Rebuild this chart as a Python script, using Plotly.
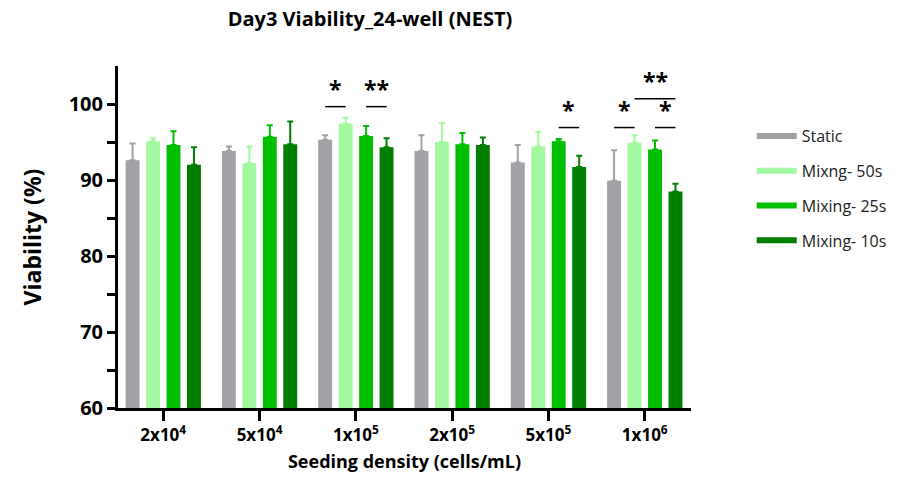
import plotly.graph_objects as go

categories = ["2x10<sup>4</sup>", "5x10<sup>4</sup>", "1x10<sup>5</sup>",
              "2x10<sup>5</sup>", "5x10<sup>5</sup>", "1x10<sup>6</sup>"]
series_names = ["Static", "Mixng- 50s", "Mixing- 25s", "Mixing- 10s"]
static_mean = [92.6, 93.8, 95.3, 93.8, 92.3, 89.9]
static_sd = [2.2, 0.6, 0.6, 2.1, 2.3, 4.0]
mix50_mean = [95.1, 92.2, 97.4, 95.0, 94.4, 94.9]
mix50_sd = [0.4, 2.2, 0.8, 2.5, 1.9, 1.0]
mix25_mean = [94.6, 95.7, 95.8, 94.7, 95.1, 94.0]
mix25_sd = [1.8, 1.5, 1.3, 1.5, 0.3, 1.2]
mix10_mean = [92.0, 94.7, 94.3, 94.6, 91.7, 88.5]
mix10_sd = [2.3, 3.0, 1.2, 1.0, 1.5, 1.0]
colors = ["#a1a1a6", "#a3f9a0", "#00bf00", "#007f00"]

# significance: (category index, series i, series j, bracket y, label)
significance = [
    (2, 0, 1, 99.65, "*"),
    (2, 2, 3, 99.65, "**"),
    (4, 2, 3, 96.9, "*"),
    (5, 0, 1, 96.9, "*"),
    (5, 2, 3, 96.9, "*"),
    (5, 1, 3, 100.7, "**"),
]

means = [static_mean, mix50_mean, mix25_mean, mix10_mean]
sds = [static_sd, mix50_sd, mix25_sd, mix10_sd]

FONT = "Open Sans"
bargap = 0.15
nser = len(series_names)
slot = (1 - bargap) / nser

fig = go.Figure()
for k in range(nser):
    fig.add_trace(go.Bar(
        x=list(range(len(categories))), y=means[k], name=series_names[k],
        marker=dict(color=colors[k], line=dict(width=0)),
        error_y=dict(type="data", array=sds[k], arrayminus=[0] * len(sds[k]),
                     symmetric=False, color=colors[k], thickness=2, width=3),
        showlegend=False,
    ))
for k in range(nser):
    fig.add_trace(go.Scatter(
        x=[None], y=[None], mode="lines", name=series_names[k],
        line=dict(color=colors[k], width=6), legendgroup=str(k),
    ))

def xpos(c, s):
    return c - (1 - bargap) / 2 + slot * (s + 0.5)

for c, i, j, yb, lab in significance:
    fig.add_shape(type="line", xref="x", yref="y",
                  x0=xpos(c, i), x1=xpos(c, j), y0=yb, y1=yb,
                  line=dict(color="black", width=1.5))
    fig.add_annotation(x=(xpos(c, i) + xpos(c, j)) / 2, y=yb - 0.1, text="<b>" + lab + "</b>",
                       showarrow=False, yanchor="bottom", xref="x", yref="y",
                       font=dict(family=FONT, size=23, color="black"))

fig.update_layout(
    width=909, height=482,
    margin=dict(l=118, r=218, t=66, b=74),
    plot_bgcolor="white", paper_bgcolor="white",
    barmode="group", bargap=bargap, bargroupgap=0.32,
    font=dict(family=FONT, color="black"),
    title=dict(text="<b>Day3 Viability_24-well (NEST)</b>", x=370 / 909, xanchor="center",
               y=1 - 19 / 482, yanchor="middle", font=dict(family=FONT, size=20, color="black")),
    legend=dict(x=1.106, y=0.845, xanchor="left", yanchor="top",
                font=dict(family=FONT, size=16, color="#222"),
                tracegroupgap=11, itemwidth=40, bgcolor="rgba(0,0,0,0)"),
    xaxis=dict(
        tickmode="array", tickvals=list(range(len(categories))), ticktext=["<b>" + c + "</b>" for c in categories],
        range=[-0.47, 5.48], showline=True, linecolor="black", linewidth=3,
        ticks="outside", ticklen=10, tickwidth=3, tickcolor="black",
        tickfont=dict(family=FONT, size=17, color="black"),
        title=dict(text="<b>Seeding density (cells/mL)</b>", font=dict(family=FONT, size=18, color="black"), standoff=10),
        showgrid=False, zeroline=False,
    ),
    yaxis=dict(
        range=[60, 105], tickvals=[60, 70, 80, 90, 100], ticktext=["<b>%d</b>" % v for v in [60, 70, 80, 90, 100]],
        showline=True, linecolor="black", linewidth=3,
        ticks="outside", ticklen=8, tickwidth=3, tickcolor="black",
        minor=dict(tickvals=[65, 75, 85, 95], ticks="outside", ticklen=8, tickwidth=3, tickcolor="black"),
        tickfont=dict(family=FONT, size=20, color="black"),
        title=dict(text="<b>Viability (%)</b>", font=dict(family=FONT, size=23, color="black"), standoff=21),
        showgrid=False, zeroline=False,
    ),
)

fig.write_html("out.html")
